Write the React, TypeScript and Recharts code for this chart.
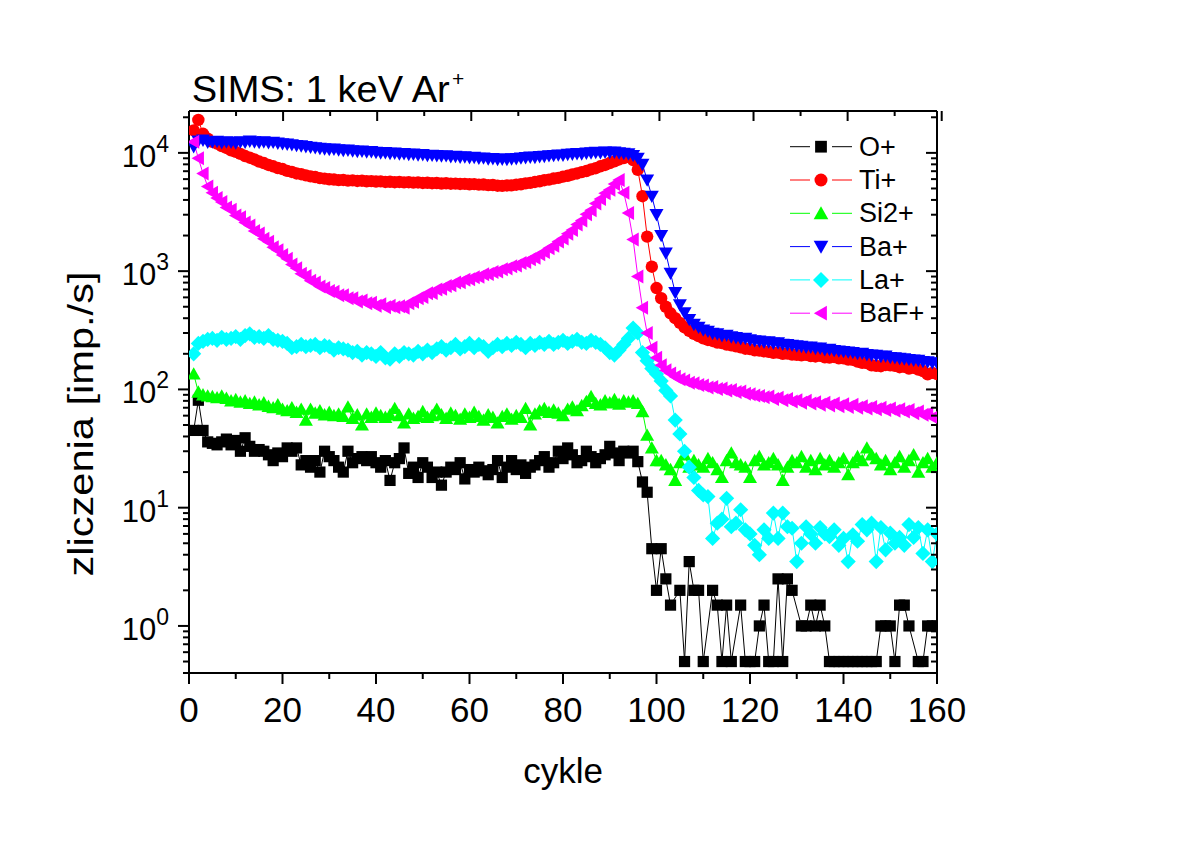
import React from 'react';
import { LineChart, Line, XAxis, YAxis } from 'recharts';

// cycle numbers (x categories)
const cycles = Array.from({ length: 160 }, (_, i) => i + 1);

// O+ counts (null = zero counts, not shown on log axis)
const oPlus: (number | null)[] = [
  45, 81, 45, 36, 35, 34, 36, 38, 34, 37,
  30, 39, 33, 30, 31, 30, 28, 25, 29, 27,
  32, 30, 32, 23, 25, 22, 25, 20, 30, 27,
  25, 22, 20, 30, 24, 26, 27, 25, 27, 24,
  22, 25, 17, 24, 26, 32, 19.5, 22, 18, 24,
  22, 18, 20, 15.5, 20, 22, 21, 24, 17.5, 21,
  20, 22, 20.5, 19, 21, 25, 18, 22, 25, 21,
  23, 19.5, 22, 23, 25, 27, 22, 24, 30, 26,
  32, 28, 24, 25, 30, 27, 24, 26, 28, 33,
  29, 25, 30, 29, 30, 24.5, 16.5, 13.5, 4.5, 2,
  4.5, 2.5, 1.5, null, 2, 0.5, 3.5, 2, 2, 0.5,
  null, 2, 1.5, 0.5, 1.5, 0.5, null, 1.5, 0.5, 0.5,
  0.5, 1, 1.5, 0.5, 0.5, 2.5, 0.5, 2.5, 2, null,
  1, 1, 1.5, 1, 1.5, 1, 0.5, 0.5, 0.5, 0.5,
  0.5, 0.5, 0.5, 0.5, 0.5, 0.5, 0.5, 1, 1, 1,
  0.5, 1.5, 1.5, 1, null, 0.5, 0.5, 1, 1, 1,
];

const tiPlus: number[] = [
  15500, 19000, 14500, 13200, 12400, 12000, 11400, 11000, 10500, 10200,
  9800, 9400, 9100, 8800, 8450, 8200, 7900, 7700, 7450, 7300,
  7050, 6900, 6700, 6600, 6450, 6330, 6250, 6120, 6060, 5980,
  5950, 5880, 5900, 5830, 5850, 5790, 5820, 5750, 5770, 5720,
  5740, 5680, 5700, 5650, 5680, 5630, 5650, 5600, 5620, 5570,
  5590, 5540, 5560, 5510, 5530, 5490, 5500, 5460, 5470, 5430,
  5440, 5390, 5400, 5340, 5350, 5280, 5260, 5300, 5310, 5380,
  5430, 5520, 5580, 5680, 5750, 5870, 5940, 6070, 6150, 6300,
  6400, 6570, 6700, 6880, 7020, 7250, 7420, 7700, 7900, 8200,
  8480, 8800, 9050, 9200, 8700, 7200, 4300, 1960, 1090, 720,
  590, 500, 440, 400, 365, 335, 312, 295, 282, 270,
  262, 257, 249, 246, 239, 236, 231, 227, 221, 219,
  214, 213, 210, 208, 204, 205, 200, 201, 197, 196,
  194, 196, 191, 190, 192, 187, 186, 188, 183, 183,
  179, 178, 172, 168, 167, 160, 158, 157, 161, 160,
  158, 154, 155, 150, 152, 147, 143, 134, 138, 135,
];

const si2Plus: number[] = [
  135, 95, 90, 88, 87, 85, 88, 84, 80, 82,
  78, 80, 76, 78, 74, 77, 72, 70, 74, 68,
  66, 70, 64, 68, 55, 68, 63, 66, 61, 64,
  60, 62, 59, 71, 57, 61, 50, 62, 58, 63,
  60, 58, 61, 69, 60, 52, 62, 57, 59, 65,
  58, 60, 68, 61, 57, 63, 60, 56, 62, 58,
  64, 59, 55, 61, 58, 52, 59, 62, 56, 60,
  58, 69, 50, 62, 66, 69, 64, 67, 63, 60,
  68, 71, 66, 73, 79, 87, 76, 74, 80, 77,
  82, 75, 80, 78, 80, 76, 65, 41, 32, 25,
  25, 23, 21, 17, 24, 28, 22, 25, 23, 22,
  26, 24, 21, 18, 25, 29, 24, 23, 22, 18,
  25, 27, 23, 24, 26, 23, 17, 22, 25, 24,
  27, 22, 25, 21, 26, 23, 25, 22, 24, 26,
  19, 24, 27, 25, 32, 28, 26, 23, 25, 21,
  24, 27, 22, 25, 28, 20, 24, 26, 22, 24,
];

const baPlus: number[] = [
  11300, 12600, 12800, 12300, 12400, 12500, 12200, 12400, 12300, 12150,
  12400, 12300, 12550, 12400, 12250, 12400, 12200, 12300, 12100, 11950,
  11850, 11700, 11550, 11450, 11300, 11150, 11050, 10900, 10800, 10700,
  10750, 10600, 10500, 10550, 10400, 10300, 10350, 10200, 10250, 10100,
  10000, 10050, 9900, 9950, 9800, 9850, 9700, 9750, 9600, 9650,
  9500, 9550, 9480, 9400, 9450, 9300, 9350, 9200, 9250, 9100,
  9150, 9000, 9050, 8900, 8950, 8800, 8850, 8800, 8900, 8950,
  9050, 9100, 9200, 9150, 9300, 9350, 9450, 9500, 9600, 9550,
  9700, 9750, 9850, 9800, 9950, 10000, 10100, 10050, 10150, 10100,
  10150, 10000, 9900, 9800, 9500, 9000, 8000, 5900, 4300, 3000,
  2000, 1420, 960, 660, 520, 445, 390, 355, 335, 318,
  310, 298, 295, 285, 287, 278, 274, 268, 270, 262,
  258, 256, 251, 252, 246, 247, 241, 239, 236, 233,
  231, 227, 228, 222, 223, 217, 218, 213, 211, 209,
  207, 205, 201, 202, 197, 195, 194, 190, 191, 186,
  185, 183, 181, 179, 177, 176, 172, 171, 168, 167,
];

const laPlus: number[] = [
  200, 245, 255, 265, 270, 260, 275, 265, 270, 280,
  265, 285, 295, 275, 280, 270, 285, 265, 260, 255,
  245, 225, 230, 240, 230, 235, 240, 225, 235, 230,
  215, 225, 220, 215, 205, 210, 195, 205, 200, 190,
  205, 185, 180, 200, 190, 205, 200, 195, 210, 200,
  215, 205, 220, 230, 215, 225, 240, 220, 230, 245,
  225, 240, 230, 210, 225, 240, 230, 245, 235, 250,
  240, 225, 245, 235, 250, 240, 255, 240, 250, 260,
  245, 255, 265, 250, 245, 260, 250, 240, 225, 205,
  195, 215, 240, 270, 330, 300, 205, 175, 150, 135,
  118, 98, 88, 55, 42, 30, 22, 18, 14, 12.8,
  12.4, 5.5, 7.4, 8, 12, 6.9, 7.4, 9.6, 6.5, 6,
  4.8, 4.0, 6.5, 5.5, 9, 5.5, 9, 6.9, 6.7, 3.5,
  5, 6.9, 6, 5, 6.8, 6, 5.7, 6.5, 4.8, 5.5,
  3.5, 5.9, 5.2, 7.2, 6.5, 7.4, 3.5, 6.8, 4.4, 6.1,
  5, 5.6, 4.8, 7.2, 5.6, 6.8, 4.1, 6.5, 3.5, 6,
];

const bafPlus: number[] = [
  12400, 9000, 6700, 5200, 4600, 4150, 3850, 3450, 3300, 2950,
  2850, 2580, 2430, 2180, 2080, 1880, 1770, 1590, 1500, 1370,
  1270, 1140, 1060, 950, 910, 830, 800, 740, 720, 680,
  670, 625, 625, 590, 590, 555, 565, 535, 540, 510,
  525, 495, 510, 495, 505, 490, 535, 550, 590, 605,
  650, 655, 700, 710, 750, 760, 800, 805, 845, 855,
  890, 895, 940, 945, 985, 995, 1040, 1055, 1100, 1115,
  1170, 1195, 1260, 1300, 1390, 1450, 1560, 1640, 1780, 1890,
  2070, 2230, 2480, 2680, 3030, 3280, 3740, 4080, 4550, 4880,
  5450, 5900, 4600, 3100, 1850, 900, 490, 300, 225, 185,
  160, 145, 136, 128, 122, 119, 114, 113, 109, 108,
  104, 105, 101, 102, 98, 99, 95, 96, 92, 91,
  89, 88, 86, 87, 83, 85, 81, 83, 79, 81,
  77, 80, 76, 78, 74, 77, 73, 76, 72, 75,
  71, 74, 70, 72, 69, 71, 68, 70, 67, 69,
  66, 68, 65, 67, 63, 65, 61, 63, 58, 56,
];

const seriesNames = ['O+', 'Ti+', 'Si2+', 'Ba+', 'La+', 'BaF+'];
const seriesKeys = ['O', 'Ti', 'Si2', 'Ba', 'La', 'BaF'];
const seriesColors = ['#000000', '#FF0000', '#00FF00', '#0000FF', '#00FFFF', '#FF00FF'];
const seriesShapes = ['square', 'circle', 'up', 'down', 'diamond', 'left'];

const xTicks = [0, 10, 20, 30, 40, 50, 60, 70, 80, 90, 100, 110, 120, 130, 140, 150, 160];
const yTicks = [
  0.4, 0.5, 0.6, 0.7, 0.8, 0.9,
  1, 2, 3, 4, 5, 6, 7, 8, 9,
  10, 20, 30, 40, 50, 60, 70, 80, 90,
  100, 200, 300, 400, 500, 600, 700, 800, 900,
  1000, 2000, 3000, 4000, 5000, 6000, 7000, 8000, 9000,
  10000, 20000,
];
const yDomain = [0.4, 22600];
const xDomain = [0, 160];

const titleText = 'SIMS: 1 keV Ar';
const titleSup = '+';
const xTitle = 'cykle';
const yTitle = 'zliczenia [imp./s]';

const FONT = "'Liberation Sans', Arial, Helvetica, sans-serif";

const data = cycles.map((c, i) => ({
  x: c,
  O: oPlus[i],
  Ti: tiPlus[i],
  Si2: si2Plus[i],
  Ba: baPlus[i],
  La: laPlus[i],
  BaF: bafPlus[i],
}));

function Marker({ shape, cx, cy, color, s = 1 }: { shape: string; cx: number; cy: number; color: string; s?: number }) {
  switch (shape) {
    case 'square':
      return <rect x={cx - 5.6 * s} y={cy - 5.6 * s} width={11.2 * s} height={11.2 * s} fill={color} />;
    case 'circle':
      return <circle cx={cx} cy={cy} r={6.2 * s} fill={color} />;
    case 'up':
      return (
        <polygon
          points={`${cx},${cy - 6.8 * s} ${cx + 7 * s},${cy + 5.6 * s} ${cx - 7 * s},${cy + 5.6 * s}`}
          fill={color}
        />
      );
    case 'down':
      return (
        <polygon
          points={`${cx},${cy + 6.8 * s} ${cx + 7 * s},${cy - 5.6 * s} ${cx - 7 * s},${cy - 5.6 * s}`}
          fill={color}
        />
      );
    case 'diamond':
      return (
        <polygon
          points={`${cx},${cy - 7.6 * s} ${cx + 7.6 * s},${cy} ${cx},${cy + 7.6 * s} ${cx - 7.6 * s},${cy}`}
          fill={color}
        />
      );
    case 'left':
      return (
        <polygon
          points={`${cx - 6.8 * s},${cy} ${cx + 5.6 * s},${cy - 7 * s} ${cx + 5.6 * s},${cy + 7 * s}`}
          fill={color}
        />
      );
    default:
      return null;
  }
}

const isDecade = (v: number) => Math.abs(Math.log10(v) - Math.round(Math.log10(v))) < 1e-9;

const XBottomTick = (p: any) => {
  const { x, y, payload } = p;
  const v = payload.value;
  const major = v % 20 === 0;
  return (
    <g>
      <line x1={x} x2={x} y1={y} y2={y + (major ? 11 : 6)} stroke="#000" strokeWidth={2} />
      {major && (
        <text x={x} y={y + 49} textAnchor="middle" fontSize={35} fontFamily={FONT} fill="#000">
          {v}
        </text>
      )}
    </g>
  );
};

const XTopTick = (p: any) => {
  const { x, y, payload } = p;
  const major = payload.value % 20 === 0;
  return <line x1={x} x2={x} y1={y} y2={y + (major ? 10 : 5)} stroke="#000" strokeWidth={2} />;
};

const YLeftTick = (p: any) => {
  const { x, y, payload } = p;
  const v = payload.value;
  const major = isDecade(v);
  const len = major ? 11 : 6;
  return (
    <g>
      <line x1={x - len} x2={x} y1={y} y2={y} stroke="#000" strokeWidth={2} />
      {major && (
        <text x={x - len - 9} y={y + 14} textAnchor="end" fontSize={31} fontFamily={FONT} fill="#000">
          10
          <tspan dy={-15} fontSize={23}>
            {Math.round(Math.log10(v))}
          </tspan>
        </text>
      )}
    </g>
  );
};

const YRightTick = (p: any) => {
  const { x, y, payload } = p;
  const major = isDecade(payload.value);
  const len = major ? 11 : 6;
  return <line x1={x - len} x2={x} y1={y} y2={y} stroke="#000" strokeWidth={2} />;
};

const makeDot = (shape: string, color: string, key: string) => (p: any) => {
  const k = `${key}-${p.index}`;
  if (p.cx == null || p.cy == null || p.value == null || (Array.isArray(p.value) && p.value[1] == null)) {
    return <g key={k} />;
  }
  return (
    <g key={k}>
      <Marker shape={shape} cx={p.cx} cy={p.cy} color={color} />
    </g>
  );
};

const W = 1169;
const H = 831;

export default function App() {
  const axisLine = { stroke: '#000', strokeWidth: 2 };
  return (
    <div style={{ position: 'relative', width: W, height: H, background: '#fff' }}>
      <LineChart
        width={W}
        height={H}
        data={data}
        margin={{ top: 93, right: 230, bottom: 106, left: 121 }}
      >
        <XAxis
          xAxisId="bottom"
          dataKey="x"
          type="number"
          domain={xDomain}
          ticks={xTicks}
          interval={0}
          allowDataOverflow
          height={60}
          tickSize={0}
          tickMargin={0}
          tickLine={false}
          axisLine={axisLine}
          tick={(p: any) => <XBottomTick {...p} />}
        />
        <XAxis
          xAxisId="top"
          orientation="top"
          type="number"
          domain={xDomain}
          ticks={xTicks}
          interval={0}
          allowDataOverflow
          height={10}
          tickSize={0}
          tickMargin={0}
          tickLine={false}
          axisLine={axisLine}
          tick={(p: any) => <XTopTick {...p} />}
        />
        <YAxis
          yAxisId="left"
          type="number"
          scale="log"
          domain={yDomain}
          ticks={yTicks}
          interval={0}
          allowDataOverflow
          width={60}
          tickSize={0}
          tickMargin={0}
          tickLine={false}
          axisLine={axisLine}
          tick={(p: any) => <YLeftTick {...p} />}
        />
        <YAxis
          yAxisId="right"
          orientation="right"
          type="number"
          scale="log"
          domain={yDomain}
          ticks={yTicks}
          interval={0}
          allowDataOverflow
          width={10}
          tickSize={0}
          tickMargin={0}
          tickLine={false}
          axisLine={axisLine}
          tick={(p: any) => <YRightTick {...p} />}
        />
        {seriesKeys.map((k, i) => (
          <Line
            key={k}
            xAxisId="bottom"
            yAxisId="left"
            type="linear"
            dataKey={k}
            name={seriesNames[i]}
            stroke={seriesColors[i]}
            strokeWidth={1}
            connectNulls
            dot={makeDot(seriesShapes[i], seriesColors[i], k)}
            activeDot={false}
            isAnimationActive={false}
          />
        ))}
      </LineChart>
      <svg
        width={W}
        height={H}
        style={{ position: 'absolute', left: 0, top: 0, pointerEvents: 'none' }}
      >
        <text
          x={183.7}
          y={93.7}
          fontSize={37}
          fontFamily={FONT}
          fill="#000"
          textLength={258}
          lengthAdjust="spacingAndGlyphs"
        >
          {titleText}
        </text>
        <text x={444} y={78} fontSize={21} fontFamily={FONT} fill="#000">
          {titleSup}
        </text>
        <text x={555} y={774.7} fontSize={35} textAnchor="middle" fontFamily={FONT} fill="#000">
          {xTitle}
        </text>
        <text
          x={85}
          y={416}
          fontSize={35}
          textAnchor="middle"
          fontFamily={FONT}
          fill="#000"
          textLength={305}
          lengthAdjust="spacingAndGlyphs"
          transform="rotate(-90, 85, 416)"
        >
          {yTitle}
        </text>
        {seriesNames.map((n, i) => {
          const cy = 138.7 + i * 33.3;
          return (
            <g key={n}>
              <line x1={782} x2={802} y1={cy} y2={cy} stroke={seriesColors[i]} strokeWidth={1} />
              <line x1={824} x2={844} y1={cy} y2={cy} stroke={seriesColors[i]} strokeWidth={1} />
              <Marker shape={seriesShapes[i]} cx={813} cy={cy} color={seriesColors[i]} s={1.05} />
              <text x={851} y={cy + 9} fontSize={27} fontFamily={FONT} fill="#000">
                {n}
              </text>
            </g>
          );
        })}
      </svg>
    </div>
  );
}
